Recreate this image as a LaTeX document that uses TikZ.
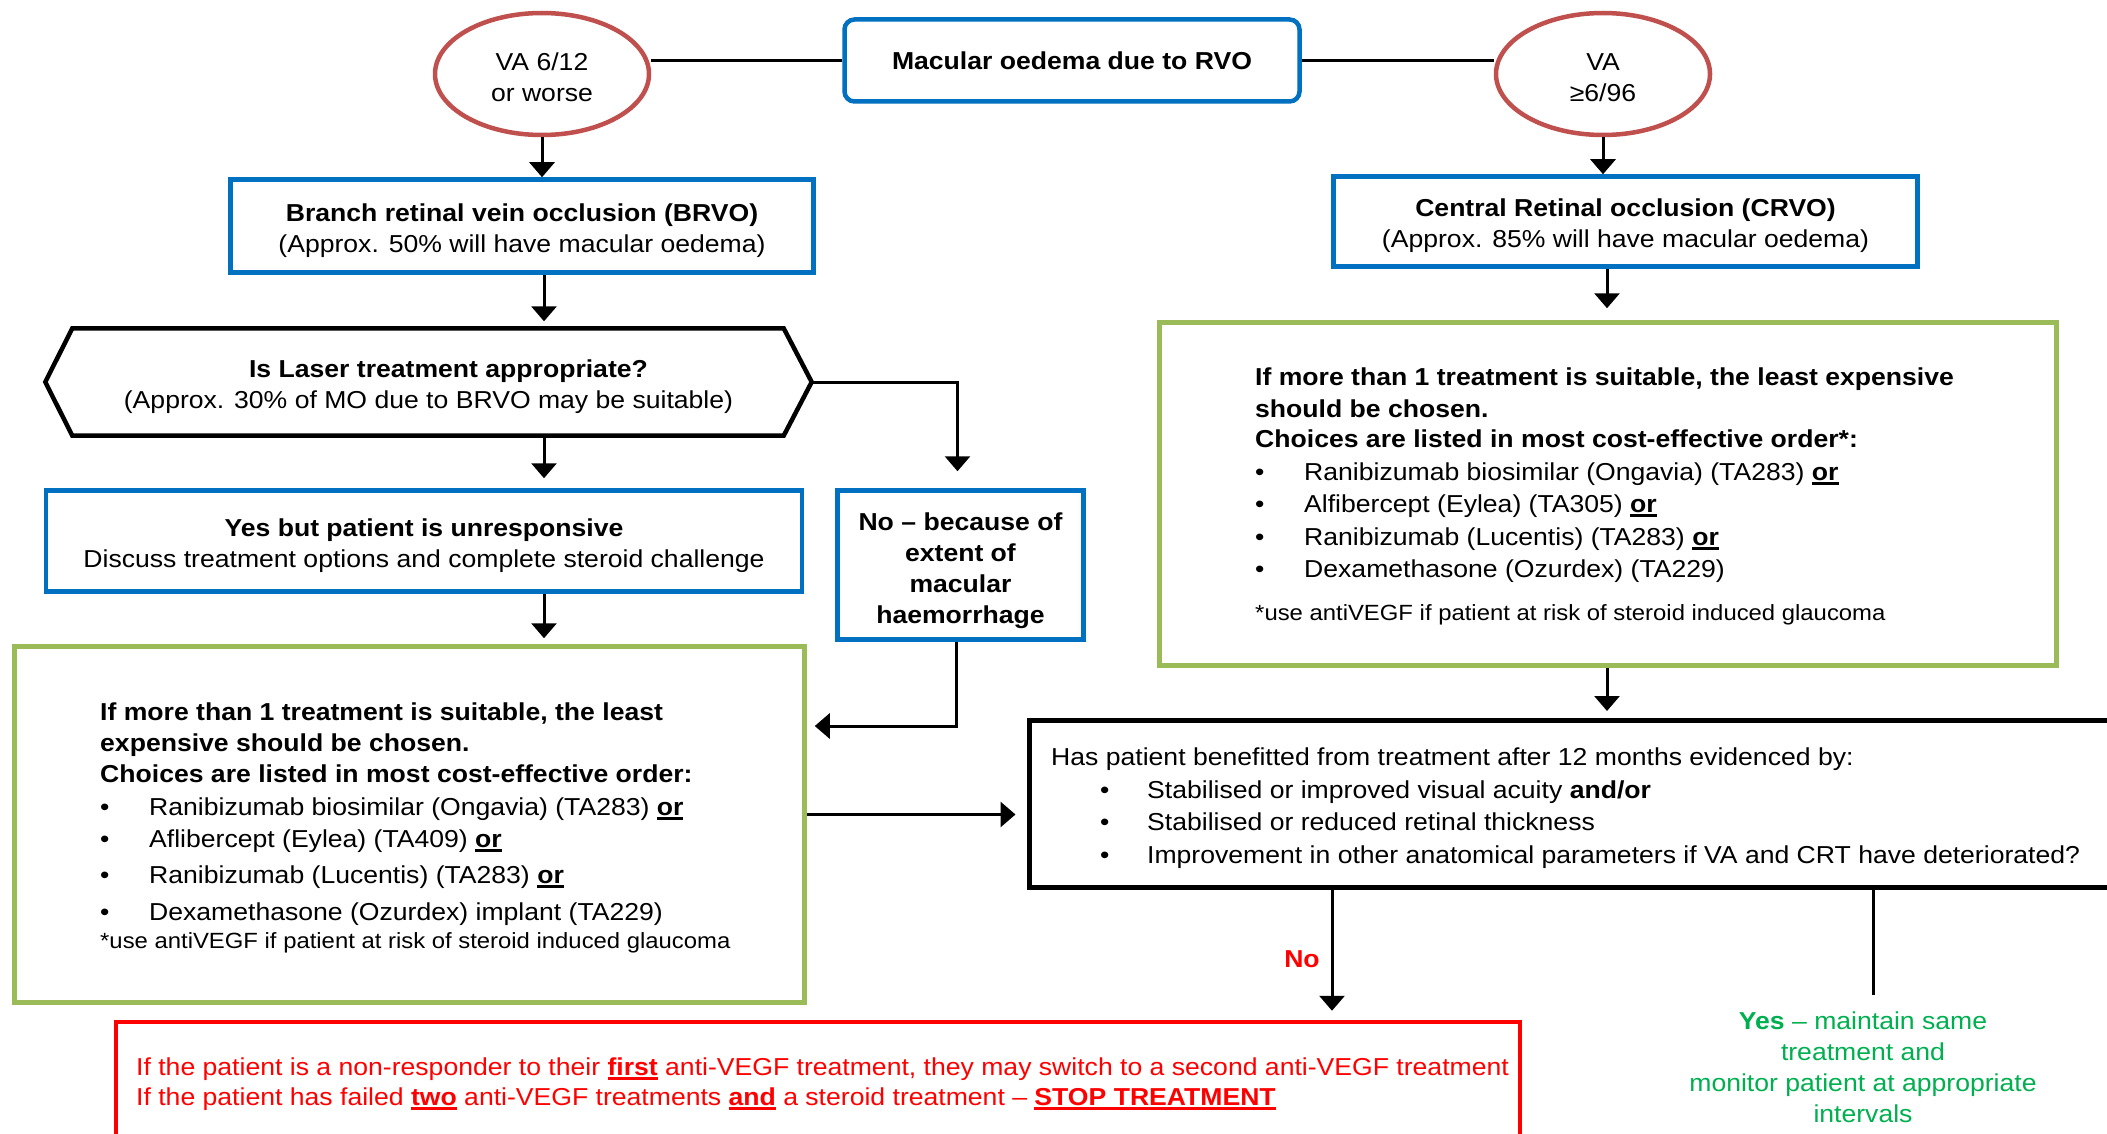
\documentclass[tikz,border=0pt]{standalone}
\usepackage{fontspec}
\setmainfont{Liberation Sans}[FakeStretch=1.085]
\usetikzlibrary{arrows.meta,shapes.geometric}
\definecolor{myblue}{HTML}{0070C0}
\definecolor{ellred}{HTML}{C0504D}
\definecolor{boxgreen}{HTML}{9BBB59}
\definecolor{myred}{HTML}{FF0000}
\definecolor{txtgreen}{HTML}{00B050}
\newcommand\uln[1]{\sbox0{#1}\rlap{\rule[-5pt]{\wd0}{2.8pt}}\usebox0}
\newcommand\bul{\makebox[49pt][l]{•}}
\newcommand\dn[1]{\rule{0pt}{#1}}
\begin{document}
\begin{tikzpicture}[x=1pt,y=-1pt,
  every node/.style={font=\fontsize{24.5}{31}\selectfont},
  bluebox/.style={draw=myblue, line width=4.5pt, inner sep=0pt, align=center},
  ell/.style={ellipse, draw=ellred, line width=4.5pt, minimum width=214pt, minimum height=122pt, inner sep=0pt, align=center},
  greenbox/.style={draw=boxgreen, line width=4.5pt, inner sep=0pt},
  blackbox/.style={draw=black, line width=5pt, inner sep=0pt},
  redbox/.style={draw=myred, line width=4.5pt, inner sep=0pt},
  txt/.style={anchor=base west, inner sep=0pt},
  small/.style={font=\fontsize{22}{27}\selectfont},
  conn/.style={draw=black, line width=3pt},
  arr/.style={conn, -{Triangle[width=25pt,length=15pt]}}
]
\useasboundingbox (0,0) rectangle (2107,1134);
\fill[white] (0,0) rectangle (2107,1134);
\clip (0,0) rectangle (2107,1134);

% top row
\node[bluebox, rounded corners=10pt, minimum width=455pt, minimum height=82pt] (main) at (1072,60.5) {\textbf{Macular oedema due to RVO}};
\node[ell] (ellL) at (542,74) {\dn{24pt}VA 6/12\\or worse};
\node[ell] (ellR) at (1603,74) {\dn{24pt}VA\\≥6/96};

\node[bluebox, minimum width=583pt, minimum height=93pt] (brvo) at (522,226) {\dn{27pt}\textbf{Branch retinal vein occlusion (BRVO)}\\(Approx. 50\% will have macular oedema)};
\node[bluebox, minimum width=584pt, minimum height=90pt] (crvo) at (1625.5,221.5) {\dn{26pt}\textbf{Central Retinal occlusion (CRVO)}\\(Approx. 85\% will have macular oedema)};

% hexagon
\node[inner sep=0pt, minimum width=766pt, minimum height=107pt, align=center] (hex) at (428.5,382) {\dn{28pt}\hspace*{40pt}\textbf{Is Laser treatment appropriate?}\\(Approx. 30\% of MO due to BRVO may be suitable)};
\draw[line width=4.5pt] (hex.west) -- ([xshift=27pt]hex.north west) -- ([xshift=-28pt]hex.north east) -- (hex.east) -- ([xshift=-28pt]hex.south east) -- ([xshift=27pt]hex.south west) -- cycle;

\node[bluebox, minimum width=756pt, minimum height=101pt] (yes) at (424,541) {\dn{27pt}\textbf{Yes but patient is unresponsive}\\Discuss treatment options and complete steroid challenge};
\node[bluebox, minimum width=246pt, minimum height=149pt] (no) at (960.5,565) {\dn{29pt}\textbf{No – because of}\\\textbf{extent of}\\\textbf{macular}\\\textbf{haemorrhage}};

% green left box
\node[greenbox, minimum width=790pt, minimum height=356pt] (greenL) at (409.5,824.5) {};
\node[txt] (gl1) at (100,720) {\textbf{If more than 1 treatment is suitable, the least}};
\node[txt] (gl2) at (100,751) {\textbf{expensive should be chosen.}};
\node[txt] (gl3) at (100,782) {\textbf{Choices are listed in most cost-effective order:}};
\node[txt] (gl4) at (100,815) {\bul Ranibizumab biosimilar (Ongavia) (TA283) \uln{\textbf{or}}};
\node[txt] (gl5) at (100,847) {\bul Aflibercept (Eylea) (TA409) \uln{\textbf{or}}};
\node[txt] (gl6) at (100,883) {\bul Ranibizumab (Lucentis) (TA283) \uln{\textbf{or}}};
\node[txt] (gl7) at (100,920) {\bul Dexamethasone (Ozurdex) implant (TA229)};
\node[txt, small] (gl8) at (100,948) {*use antiVEGF if patient at risk of steroid induced glaucoma};

% green right box
\node[greenbox, minimum width=897pt, minimum height=343pt] (greenR) at (1608,494) {};
\node[txt] (gr1) at (1255,385) {\textbf{If more than 1 treatment is suitable, the least expensive}};
\node[txt] (gr2) at (1255,417) {\textbf{should be chosen.}};
\node[txt] (gr3) at (1255,447) {\textbf{Choices are listed in most cost-effective order*:}};
\node[txt] (gr4) at (1255,480) {\bul Ranibizumab biosimilar (Ongavia) (TA283) \uln{\textbf{or}}};
\node[txt] (gr5) at (1255,512) {\bul Alfibercept (Eylea) (TA305) \uln{\textbf{or}}};
\node[txt] (gr6) at (1255,545) {\bul Ranibizumab (Lucentis) (TA283) \uln{\textbf{or}}};
\node[txt] (gr7) at (1255,577) {\bul Dexamethasone (Ozurdex) (TA229)};
\node[txt, small] (gr8) at (1255,620) {*use antiVEGF if patient at risk of steroid induced glaucoma};

% black question box
\node[blackbox, minimum width=1110pt, minimum height=167pt] (black) at (1584,804) {};
\node[txt] (bq1) at (1051,765) {Has patient benefitted from treatment after 12 months evidenced by:};
\node[txt] (bq2) at (1100,798) {\makebox[47pt][l]{•}Stabilised or improved visual acuity \textbf{and/or}};
\node[txt] (bq3) at (1100,830) {\makebox[47pt][l]{•}Stabilised or reduced retinal thickness};
\node[txt] (bq4) at (1100,863) {\makebox[47pt][l]{•}Improvement in other anatomical parameters if VA and CRT have deteriorated?};

% red box
\node[redbox, minimum width=1404pt, minimum height=140pt] (red) at (818,1092) {};
\node[txt, text=myred] (rt1) at (136,1075) {If the patient is a non-responder to their \uln{\textbf{first}} anti-VEGF treatment, they may switch to a second anti-VEGF treatment};
\node[txt, text=myred] (rt2) at (136,1105) {If the patient has failed \uln{\textbf{two}} anti-VEGF treatments \uln{\textbf{and}} a steroid treatment – \uln{\textbf{STOP TREATMENT}}};

% yes outcome
\node[align=center, text=txtgreen, anchor=north, inner sep=0pt] (yestxt) at (1863,1012) {\textbf{Yes} – maintain same\\treatment and\\monitor patient at appropriate\\intervals};
\node[anchor=base, text=myred, inner sep=0pt] (nolbl) at (1302,967) {\textbf{No}};

% connectors
\coordinate (spine) at (544,0);
\coordinate (rspine) at (1607,0);
\coordinate (nocol) at (1332,0);
\coordinate (yescol) at (1873,0);
\coordinate (yesend) at (1873,995);

\draw[conn] (main.west) -- (main.west -| ellL.east);
\draw[conn] (main.east) -- (main.east -| ellR.west);
\draw[arr] (ellL.south) -- (ellL.south |- brvo.north);
\draw[arr] (ellR.south) -- (ellR.south |- crvo.north);
\draw[arr, shorten >=7pt] (spine |- brvo.south) -- (spine |- hex.north);
\draw[arr, shorten >=10pt] (spine |- hex.south) -- (spine |- yes.north);
\draw[arr, shorten >=6pt] (spine |- yes.south) -- (spine |- greenL.north);
\draw[arr, shorten >=17pt] (hex.east) -| ([xshift=-3pt]no.north);
\draw[arr, shorten >=8pt] ([xshift=-4pt]no.south) |- ([yshift=98.5pt]greenL.east);
\draw[arr, shorten >=11pt] ([yshift=10pt]greenL.east) -- ([yshift=10pt]greenL.east -| black.west);
\draw[arr, shorten >=12pt] (rspine |- crvo.south) -- (rspine |- greenR.north);
\draw[arr, shorten >=7pt] (rspine |- greenR.south) -- (rspine |- black.north);
\draw[arr, shorten >=9pt] (nocol |- black.south) -- (nocol |- red.north);
\draw[conn] (yescol |- black.south) -- (yesend);
\end{tikzpicture}
\end{document}
